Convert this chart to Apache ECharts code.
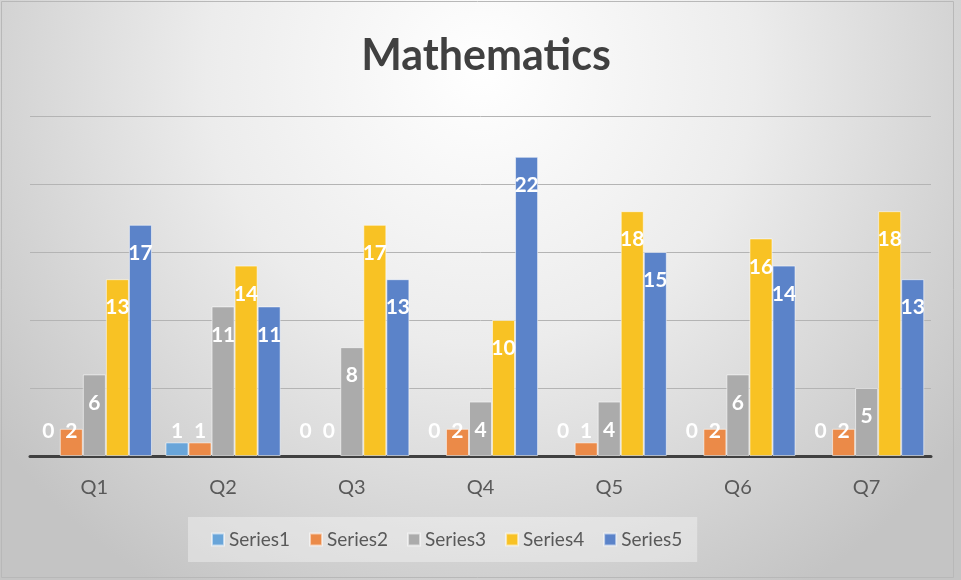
<!DOCTYPE html>
<html>
<head>
<meta charset="utf-8">
<script src="https://cdn.jsdelivr.net/npm/echarts@6/dist/echarts.min.js"></script>
<style>
html,body{margin:0;padding:0;background:#fff;}
#chart{width:961px;height:580px;}
</style>
</head>
<body>
<div id="chart"></div>
<script>
var categories = ['Q1','Q2','Q3','Q4','Q5','Q6','Q7'];
var seriesNames = ['Series1','Series2','Series3','Series4','Series5'];
var series1 = [0, 1, 0, 0, 0, 0, 0];
var series2 = [2, 1, 0, 2, 1, 2, 2];
var series3 = [6, 11, 8, 4, 4, 6, 5];
var series4 = [13, 14, 17, 10, 18, 16, 18];
var series5 = [17, 11, 13, 22, 15, 14, 13];
var seriesColors = ['#69a5d9', '#eb8a48', '#ababab', '#f8c224', '#5b83c9'];

var allValues = [series1, series2, series3, series4, series5];

function makeData(vals) {
  return vals.map(function (v) {
    var item = { value: v };
    if (v < 4) {
      item.label = { position: 'insideBottom', distance: 14 };
    } else {
      item.label = { position: 'insideTop', distance: 18 };
    }
    if (v === 0) {
      item.itemStyle = { borderWidth: 0 };
    }
    return item;
  });
}

var chart = echarts.init(document.getElementById('chart'), null, { renderer: 'canvas' });

var series = allValues.map(function (vals, i) {
  return {
    name: seriesNames[i],
    type: 'bar',
    data: makeData(vals),
    barGap: '0%',
    barCategoryGap: '10.5%',
    itemStyle: {
      color: seriesColors[i],
      borderColor: 'rgba(255,255,255,0.55)',
      borderWidth: 1
    },
    label: {
      show: true,
      color: '#ffffff',
      fontFamily: 'Lato',
      fontWeight: 'bold',
      fontSize: 21,
      lineHeight: 21
    },
    emphasis: { disabled: true },
    animation: false
  };
});

chart.setOption({
  animation: false,
  backgroundColor: {
    type: 'radial', x: 0.5, y: 0.12, r: 1.05,
    colorStops: [
      { offset: 0, color: '#ffffff' },
      { offset: 0.45, color: '#ececec' },
      { offset: 1, color: '#c4c4c4' }
    ]
  },
  title: {
    text: 'Mathematics',
    left: 481,
    top: 30,
    textAlign: 'center',
    textStyle: {
      fontFamily: 'Lato',
      fontWeight: 'bold',
      fontSize: 43,
      color: '#404040'
    }
  },
  legend: {
    data: seriesNames,
    left: 188,
    top: 517,
    padding: [13, 15, 13, 23],
    backgroundColor: 'rgba(255,255,255,0.35)',
    itemWidth: 12,
    itemHeight: 12,
    itemGap: 19,
    icon: 'rect',
    textStyle: { fontFamily: 'Lato', fontSize: 19, color: '#595959' }
  },
  grid: { left: 30, right: 30, top: 116, bottom: 124, containLabel: false },
  xAxis: {
    type: 'category',
    data: categories,
    axisLine: { lineStyle: { color: '#404040', width: 3 } },
    axisTick: { show: false },
    axisLabel: { fontFamily: 'Lato', fontSize: 20, color: '#595959', margin: 22 }
  },
  yAxis: {
    type: 'value',
    min: 0, max: 25, interval: 5,
    axisLabel: { show: false },
    axisLine: { show: false },
    axisTick: { show: false },
    splitLine: { lineStyle: { color: '#b4b4b4', width: 1 } }
  },
  graphic: [{
    type: 'rect',
    shape: { x: 1.5, y: 1.5, width: 952, height: 576 },
    style: { fill: 'none', stroke: '#b8b8b8', lineWidth: 1 },
    silent: true
  }],
  series: series
});
</script>
</body>
</html>
